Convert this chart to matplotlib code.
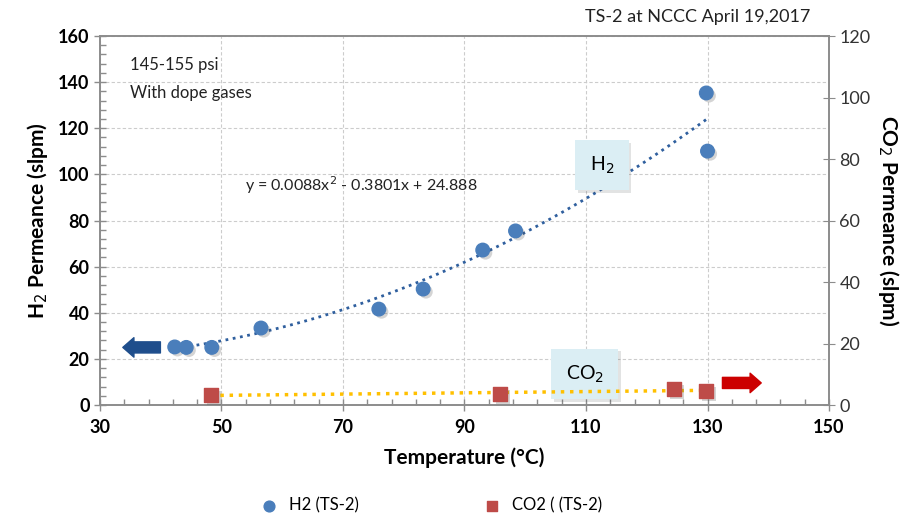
import numpy as np
import matplotlib
matplotlib.use("Agg")
import matplotlib.pyplot as plt
import matplotlib.patheffects as pe

plt.rcParams['font.family'] = ['Lato', 'DejaVu Sans']

# data
h2_temp = [42.3, 44.2, 48.4, 56.5, 75.9, 83.2, 93.0, 98.4, 129.8, 130.0]
h2_perm = [25.2, 25.0, 25.0, 33.4, 41.6, 50.3, 67.2, 75.5, 135.3, 110.1]
co2_temp = [48.3, 95.9, 124.5, 129.8]
co2_perm = [3.3, 3.6, 5.2, 4.6]
h2_fit = [0.0088, -0.3801, 24.888]   # from the equation on the chart

blue = '#4a7ebb'
red = '#be4b48'

fig = plt.figure(figsize=(9.09, 5.18), dpi=100)
ax = fig.add_axes([0.110, 0.218, 0.802, 0.7125])
ax2 = ax.twinx()

shadow = [pe.SimplePatchShadow(offset=(2, -2), alpha=0.25, shadow_rgbFace='#555555'), pe.Normal()]

# trendlines
xf = np.linspace(min(h2_temp), max(h2_temp), 100)
ax.plot(xf, np.polyval(h2_fit, xf), ls=':', color='#2f5f9e', lw=2, zorder=3)
cfit = np.polyfit(co2_temp, co2_perm, 1)
xc = np.linspace(min(co2_temp), max(co2_temp), 50)
ax2.plot(xc, np.polyval(cfit, xc), ls=':', color='#ffc000', lw=2.5, zorder=3)

ax.scatter(h2_temp, h2_perm, s=95, color=blue, zorder=4, path_effects=shadow)
ax2.scatter(co2_temp, co2_perm, s=100, marker='s', color=red, zorder=4, path_effects=shadow)

ax.set_xlim(30, 150)
ax.set_ylim(0, 160)
ax2.set_ylim(0, 120)
ax.set_xticks(np.arange(30, 151, 20))
ax.set_xticks(np.arange(30, 151, 4), minor=True)
ax.set_yticks(np.arange(0, 161, 20))
ax.set_yticks(np.arange(0, 161, 4), minor=True)
ax2.set_yticks(np.arange(0, 121, 20))

ax.grid(True, which='major', ls=(0, (3, 2)), color='#cccccc', lw=0.8)
ax.set_axisbelow(True)

for a in (ax, ax2):
    for s in a.spines.values():
        s.set_color('#8c8c8c')
        s.set_linewidth(1.2)
ax.tick_params(axis='both', which='major', direction='inout', length=8, color='#8c8c8c', width=1)
ax.tick_params(axis='both', which='minor', direction='in', length=4, color='#8c8c8c', width=1)
ax.tick_params(axis='x', labelsize=13, pad=6)
ax.tick_params(axis='y', labelsize=13)
ax2.tick_params(axis='y', direction='inout', length=8, color='#8c8c8c', labelsize=13, labelcolor='#333333')
for lab in ax.get_yticklabels():
    lab.set_fontweight('bold')
for lab in ax.get_xticklabels():
    lab.set_fontweight('bold')

ax.set_xlabel('Temperature (°C)', fontsize=15, fontweight='bold', labelpad=8)
ax.set_ylabel('H$_2$ Permeance (slpm)', fontsize=15, fontweight='bold', labelpad=6)
ax2.set_ylabel('CO$_2$ Permeance (slpm)', fontsize=15, fontweight='bold', rotation=-90, labelpad=22)

ax.text(34.9, 147.5, '145-155 psi', fontsize=12, va='center', color='#222222')
ax.text(34.9, 135.5, 'With dope gases', fontsize=12, va='center', color='#222222')
ax.text(53.9, 95.4, 'y = 0.0088x$^2$ - 0.3801x + 24.888', fontsize=11.5, va='center', color='#222222')

box = dict(boxstyle='square,pad=0.75', fc='#dbeef4', ec='none',
           path_effects=[pe.SimplePatchShadow(offset=(2, -2), alpha=0.15), pe.Normal()])
ax.text(112.6, 104, 'H$_2$', fontsize=14, ha='center', va='center', bbox=box, zorder=5)
ax.text(109.8, 13.5, 'CO$_2$', fontsize=14, ha='center', va='center', bbox=box, zorder=5)

ax.annotate('', xy=(33.3, 25), xytext=(40.4, 25),
            arrowprops=dict(arrowstyle='simple,head_width=1.4,head_length=0.8,tail_width=0.8',
                            fc='#1f4e8c', ec='#1f4e8c'))
ax.annotate('', xy=(139.3, 9.6), xytext=(132.0, 9.6),
            arrowprops=dict(arrowstyle='simple,head_width=1.4,head_length=0.8,tail_width=0.8',
                            fc='#cc0000', ec='#cc0000'))

fig.text(0.891, 0.967, 'TS-2 at NCCC April 19,2017', fontsize=13, ha='right', va='center', color='#222222')

h1 = ax.scatter([], [], s=60, color=blue)
h2 = ax.scatter([], [], s=60, marker='s', color=red)
fig.legend([h1, h2], ['H2 (TS-2)', 'CO2 ( (TS-2)'], loc='center', bbox_to_anchor=(0.47, 0.025),
           ncol=2, frameon=False, fontsize=12, columnspacing=7, handletextpad=0.2)

fig.savefig('out.png', dpi=100)
